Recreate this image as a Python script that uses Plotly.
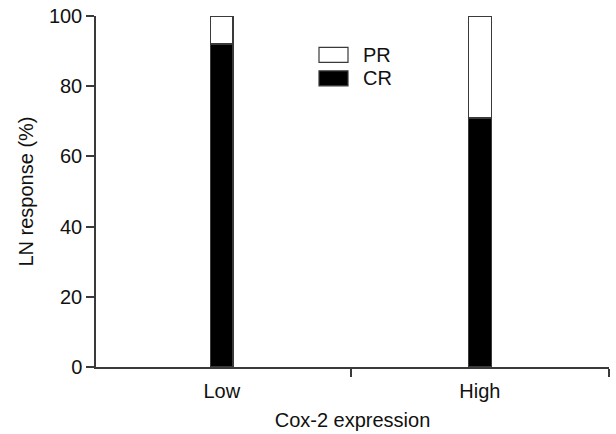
import plotly.graph_objects as go

categories = ["Low", "High"]
cr_values = [92, 71]
pr_values = [8, 29]
y_ticks = [0, 20, 40, 60, 80, 100]

FONT = "Arial, Liberation Sans, sans-serif"
LINE = "#3a3a3a"
FS = 20

fig = go.Figure()
fig.add_trace(go.Bar(x=categories, y=cr_values, name="CR", marker=dict(color="black", line=dict(color=LINE, width=1.2)), width=0.088, showlegend=False))
fig.add_trace(go.Bar(x=categories, y=pr_values, name="PR", marker=dict(color="white", line=dict(color=LINE, width=1.5)), width=0.088, showlegend=False))

fig.update_layout(
    barmode="stack",
    width=616, height=434,
    margin=dict(l=96, r=7, t=15.5, b=66.5, autoexpand=False),
    paper_bgcolor="white", plot_bgcolor="white",
    font=dict(family=FONT, size=FS, color="#111"),
    xaxis=dict(
        type="category", range=[-0.487, 1.5], automargin=False,
        showline=True, linecolor=LINE, linewidth=1.5,
        ticks="outside", tickson="boundaries", ticklen=8, tickcolor=LINE, tickwidth=1.5,
        ticklabelstandoff=5,
        tickfont=dict(size=FS, family=FONT),
        title=dict(text="Cox-2 expression", font=dict(size=FS, family=FONT), standoff=12),
        showgrid=False, zeroline=False,
    ),
    yaxis=dict(
        range=[0, 100], tickvals=y_ticks, automargin=False,
        showline=True, linecolor=LINE, linewidth=1.5,
        ticks="outside", ticklen=8, tickcolor=LINE, tickwidth=1.5,
        tickfont=dict(size=FS, family=FONT),
        title=dict(text="LN response (%)", font=dict(size=FS, family=FONT), standoff=10),
        showgrid=False, zeroline=False,
    ),
)

# Manual legend (paper coordinates)
legend_items = [("PR", "white"), ("CR", "black")]
px_w, px_h = 616 - 96 - 7, 434 - 15.5 - 66.5
def xp(px):
    return (px - 96) / px_w
def yp(py):
    return 1 - (py - 15.5) / px_h
for i, (lab, col) in enumerate(legend_items):
    top = 47 + i * 23.5
    fig.add_shape(type="rect", xref="paper", yref="paper",
                  x0=xp(319), x1=xp(348), y0=yp(top + 15), y1=yp(top),
                  fillcolor=col, line=dict(color=LINE, width=1.2))
    fig.add_annotation(xref="paper", yref="paper", x=xp(361), y=yp(top + 7.5),
                       text=lab, showarrow=False, xanchor="left", yanchor="middle",
                       font=dict(size=FS, family=FONT, color="#111"))

fig.write_html("out.html")
